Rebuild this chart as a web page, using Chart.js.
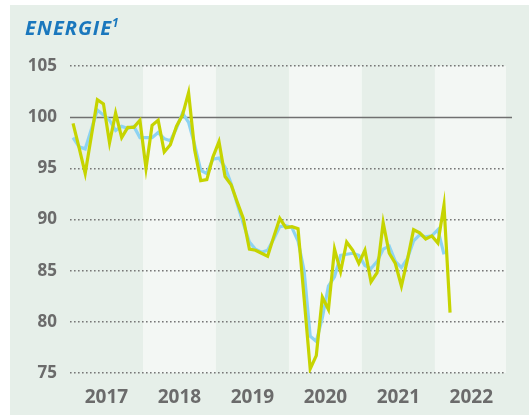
<!DOCTYPE html>
<html>
<head>
<meta charset="utf-8">
<script src="https://cdn.jsdelivr.net/npm/chart.js@4.4.1/dist/chart.umd.min.js"></script>
<style>
  html, body { margin: 0; padding: 0; background: #fff; }
  #wrap { position: relative; width: 529px; height: 415px; overflow: hidden; }
  canvas { position: absolute; left: 0; top: 0; }
  #title { position: absolute; left: 25px; top: 14px; font: italic 700 20px/normal "Open Sans", sans-serif;
           color: #1a77bd; letter-spacing: 1px; white-space: nowrap; }
  #title span { font-size: 12px; position: relative; top: -8px; letter-spacing: 0; }
</style>
</head>
<body>
<div id="wrap">
  <canvas id="chart" width="529" height="415"></canvas>
  <div id="title">ENERGIE<span>1</span></div>
</div>
<script>
// years shown on the x axis, one band of 12 months each (Jan 2017 = month 0)
const years = ['2017', '2018', '2019', '2020', '2021', '2022'];
const yTicks = [75, 80, 85, 90, 95, 100, 105];

// monthly index values (green line), Jan 2017 .. Mar 2022
const monthly = [
  99.4, 97.0, 94.5, 98.1, 101.7, 101.3, 97.5, 100.4, 98.0, 99.0, 99.0, 99.7,
  95.0, 99.2, 99.7, 96.6, 97.3, 99.1, 100.2, 102.4, 96.8, 93.8, 93.9, 96.1,
  97.6, 94.2, 93.4, 91.7, 90.1, 87.1, 87.0, 86.7, 86.4, 88.3, 90.1, 89.2,
  89.3, 89.1, 82.3, 75.4, 76.7, 82.4, 81.2, 87.1, 84.9, 87.8, 87.0, 85.7,
  87.0, 83.9, 84.8, 89.7, 86.7, 85.7, 83.5, 86.1, 89.0, 88.7, 88.1, 88.4,
  87.7, 91.4, 80.9
];

// smoothed values (light blue line), Jan 2017 .. Feb 2022
const trend = [
  98.0, 97.1, 96.9, 98.8, 100.7, 100.2, 99.7, 98.7, 99.1, 98.9, 99.1, 98.0,
  98.0, 98.0, 98.5, 97.9, 97.7, 98.9, 100.4, 99.5, 97.3, 94.8, 94.5, 95.9,
  96.0, 95.1, 93.5, 91.5, 89.6, 87.8, 87.1, 86.8, 87.0, 88.1, 89.3, 89.4,
  89.2, 87.9, 85.0, 78.6, 78.1, 80.4, 83.5, 84.4, 86.5, 86.6, 86.7, 86.5,
  85.5, 85.2, 85.9, 87.1, 87.4, 85.9, 85.3, 86.2, 87.9, 88.5, 88.3, 88.4,
  89.0, 86.6
];

const BG = '#e6efe9';
const BAND = '#f3f7f4';
const TXT = '#6b6b6b';

const pts = arr => arr.map((v, i) => ({ x: i, y: v }));

// card background + lighter bands for every second year
const backdrop = {
  id: 'backdrop',
  beforeDraw(chart) {
    const { ctx, chartArea: a, scales: { x } } = chart;
    ctx.save();
    ctx.fillStyle = '#fff';
    ctx.fillRect(0, 0, chart.width, chart.height);
    ctx.fillStyle = BG;
    ctx.fillRect(10, 5, chart.width - 10, chart.height - 5);
    ctx.fillStyle = BAND;
    years.forEach((y, k) => {
      if (k % 2 === 0) return;
      const l = Math.max(a.left, x.getPixelForValue(12 * k - 0.5));
      const r = Math.min(a.right, x.getPixelForValue(12 * k + 11.5));
      ctx.fillRect(l, a.top, r - l, a.bottom - a.top);
    });
    ctx.restore();
  },
  beforeDatasetsDraw(chart) {
    // solid reference line at 100
    const { ctx, chartArea: a, scales: { y } } = chart;
    const py = Math.round(y.getPixelForValue(100)) + 0.5;
    ctx.save();
    ctx.strokeStyle = '#707070';
    ctx.lineWidth = 1.3;
    ctx.beginPath();
    ctx.moveTo(a.left, py);
    ctx.lineTo(a.right + 6, py);
    ctx.stroke();
    ctx.restore();
  }
};

new Chart(document.getElementById('chart'), {
  type: 'line',
  data: {
    datasets: [
      { label: 'Energie', data: pts(monthly), borderColor: '#c6d400', borderWidth: 3.2,
        pointRadius: 0, tension: 0, borderJoinStyle: 'miter' },
      { label: 'Trend', data: pts(trend), borderColor: '#8dd3f2', borderWidth: 3.2,
        pointRadius: 0, tension: 0, borderJoinStyle: 'miter' }
    ]
  },
  options: {
    responsive: false, animation: false,
    layout: { padding: { left: 10, right: 23, top: 66, bottom: 0 } },
    plugins: { legend: { display: false }, tooltip: { enabled: false } },
    scales: {
      x: {
        type: 'linear', min: -0.5, max: 71.2,
        afterBuildTicks: s => { s.ticks = years.map((y, k) => ({ value: 12 * k + 5.5 })); },
        afterFit: s => { s.height = 42; },
        ticks: { callback: (v, i) => years[i], autoSkip: false, maxRotation: 0, padding: 5,
                 color: TXT, font: { family: 'Open Sans', size: 19, weight: 'bold' } },
        grid: { display: false },
        border: { display: false }
      },
      y: {
        min: 75, max: 105,
        afterBuildTicks: s => { s.ticks = yTicks.map(v => ({ value: v })); },
        afterFit: s => { s.width = 60; },
        ticks: { padding: 13, color: TXT, font: { family: 'Open Sans', size: 17, weight: 'bold' } },
        grid: { drawTicks: false, lineWidth: 1.6,
                color: c => (c.tick && c.tick.value === 100) ? 'rgba(0,0,0,0)' : '#777777' },
        border: { display: false, dash: [1.6, 2.4] }
      }
    }
  },
  plugins: [backdrop]
});
</script>
</body>
</html>
